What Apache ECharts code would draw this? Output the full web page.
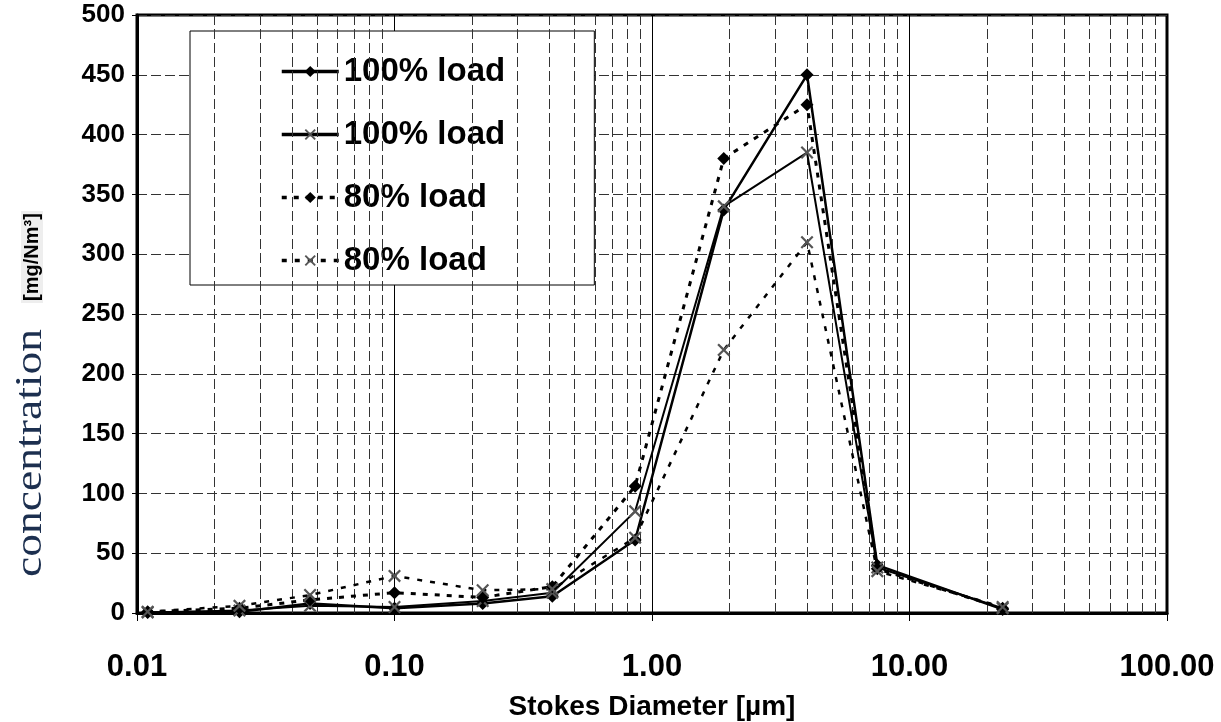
<!DOCTYPE html>
<html>
<head>
<meta charset="utf-8">
<script src="https://cdn.jsdelivr.net/npm/echarts@6/dist/echarts.min.js"></script>
<style>
html,body{margin:0;padding:0;background:#fff;}
#chart{width:1221px;height:722px;}
</style>
</head>
<body>
<div id="chart"></div>
<script>
// ---- data ----
var diameters = [0.011, 0.025, 0.047, 0.1, 0.22, 0.41, 0.86, 1.9, 4.0, 7.5, 23];
var load100a = [0.5, 1, 8, 4, 8, 14, 61, 337, 450, 40, 3];   // solid, diamond
var load100b = [0.5, 2, 6, 5, 10, 17, 85, 340, 385, 38, 4];  // solid, x
var load80a  = [1, 4, 11, 17, 13, 22, 106, 380, 425, 37, 4]; // dashed, diamond
var load80b  = [1, 6, 15, 31, 19, 20, 63, 220, 310, 35, 5];  // dashed, x
var seriesNames = ['100% load', '100% load ', '80% load', '80% load '];
var minorGrid = [0.02,0.03,0.04,0.05,0.06,0.07,0.08,0.09,
                 0.2,0.3,0.4,0.5,0.6,0.7,0.8,0.9,
                 2,3,4,5,6,7,8,9,
                 20,30,40,50,60,70,80,90];
var yTicks = {min: 0, max: 500, interval: 50};

function pairs(ys){ return diameters.map(function(x,i){ return [x, ys[i]]; }); }

var crossPath = 'path://M0,1.2 L1.2,0 L5,3.8 L8.8,0 L10,1.2 L6.2,5 L10,8.8 L8.8,10 L5,6.2 L1.2,10 L0,8.8 L3.8,5 Z';
var sansBold = 'Liberation Sans, Arial, sans-serif';
var narrow = 'Liberation Sans Narrow, Arial Narrow, Liberation Sans, sans-serif';

var chart = echarts.init(document.getElementById('chart'), null, {renderer: 'canvas'});
chart.setOption({
  animation: false,
  backgroundColor: '#fff',
  grid: {left: 137, right: 54, top: 15, bottom: 109, show: true, borderColor: '#000', borderWidth: 3,
         backgroundColor: 'transparent', containLabel: false, outerBoundsMode: 'none'},
  legend: {
    data: seriesNames,
    orient: 'vertical',
    left: 190, top: 31,
    itemWidth: 57, itemHeight: 14, itemGap: 30,
    padding: [24, 80, 8, 90],
    backgroundColor: '#fff', borderColor: '#000', borderWidth: 1,
    selectedMode: false,
    lineStyle: {width: 3.5},
    textStyle: {fontFamily: sansBold, fontWeight: 'bold', fontSize: 33, color: '#000', lineHeight: 32}
  },
  xAxis: {
    type: 'log', logBase: 10, min: 0.01, max: 100,
    name: 'Stokes Diameter [µm]', nameLocation: 'middle', nameGap: 80,
    nameTextStyle: {fontFamily: narrow, fontWeight: 'bold', fontSize: 28, color: '#000'},
    axisLine: {show: true, lineStyle: {color: '#000', width: 3}},
    axisTick: {show: true, inside: false, length: 8, lineStyle: {color: '#000', width: 1}},
    axisLabel: {margin: 39, fontFamily: narrow, fontWeight: 'bold', fontSize: 31, color: '#000',
      showMinLabel: true, showMaxLabel: true,
      formatter: function(v){ return Number(v).toFixed(2); }},
    splitLine: {show: true, lineStyle: {color: '#000', width: 1, type: 'solid'}}
  },
  yAxis: {
    type: 'value', min: yTicks.min, max: yTicks.max, interval: yTicks.interval,
    axisLine: {show: true, lineStyle: {color: '#000', width: 3}},
    axisTick: {show: true, inside: false, length: 5, lineStyle: {color: '#000', width: 1}},
    axisLabel: {margin: 12, fontFamily: sansBold, fontWeight: 'bold', fontSize: 26, color: '#000', padding: [4, 0, 0, 0]},
    splitLine: {show: true, lineStyle: {color: '#333', width: 1, type: [10, 4]}}
  },
  graphic: [
    {type: 'text', x: 31, y: 453, rotation: Math.PI / 2, scaleX: 1.2, silent: true,
     style: {text: 'concentration', x: 0, y: 0, align: 'center', verticalAlign: 'middle',
             font: '38px "Liberation Serif", "Times New Roman", serif', fill: '#1c2f4f'}},
    {type: 'text', x: 32, y: 257, rotation: Math.PI / 2, silent: true,
     style: {text: '[mg/Nm³]', x: 0, y: 0, align: 'center', verticalAlign: 'middle',
             font: 'bold 20px "Liberation Sans", Arial, sans-serif', fill: '#000',
             backgroundColor: '#eeeeee', padding: [1, 2]}}
  ],
  series: [
    {
      name: '__minorgrid', type: 'line', data: [], silent: true, z: 1,
      markLine: {silent: true, symbol: 'none', animation: false,
        label: {show: false}, emphasis: {disabled: true},
        lineStyle: {type: [10, 4], color: '#333', width: 1},
        data: minorGrid.map(function(v){ return {xAxis: v}; })}
    },
    {
      name: seriesNames[0], type: 'line', data: pairs(load100a), z: 5,
      symbol: 'diamond', symbolSize: 13,
      itemStyle: {color: '#000'},
      lineStyle: {color: '#000', width: 2.5, type: 'solid'}
    },
    {
      name: seriesNames[1], type: 'line', data: pairs(load100b), z: 5,
      symbol: crossPath, symbolSize: 13,
      itemStyle: {color: '#555'},
      lineStyle: {color: '#000', width: 2, type: 'solid'}
    },
    {
      name: seriesNames[2], type: 'line', data: pairs(load80a), z: 5,
      symbol: 'diamond', symbolSize: 13,
      itemStyle: {color: '#000'},
      lineStyle: {color: '#000', width: 3, type: [5, 7]}
    },
    {
      name: seriesNames[3], type: 'line', data: pairs(load80b), z: 5,
      symbol: crossPath, symbolSize: 13,
      itemStyle: {color: '#555'},
      lineStyle: {color: '#000', width: 2.5, type: [5, 8]}
    }
  ]
});
</script>
</body>
</html>
